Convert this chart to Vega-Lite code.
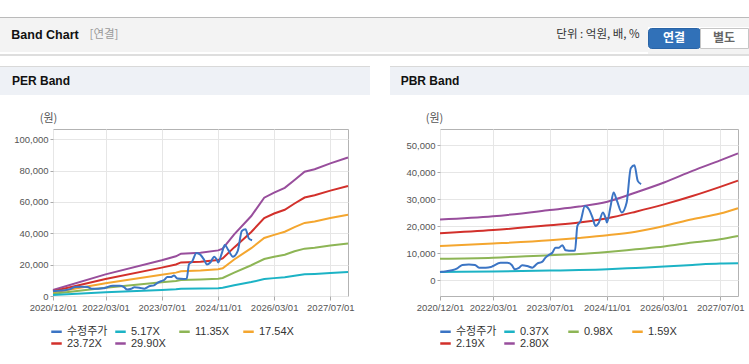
{
"$schema": "https://vega.github.io/schema/vega-lite/v6.json",
"background": "white",
"padding": {"top": 17, "left": 0, "right": 0, "bottom": 0},
"config": {
  "view": {"stroke": null},
  "axis": {"labelFont": "Liberation Sans", "labelFontSize": 9.5, "labelColor": "#555555", "gridColor": "#e6e6e6", "tickColor": "#aaaaaa", "domain": false},
  "text": {"font": "Noto Sans CJK KR"}
},
"datasets": {
  "price": [
    {"d":"2020-12-01","s":"수정주가","v":3100},{"d":"2020-12-21","s":"수정주가","v":3200},{"d":"2021-03-15","s":"수정주가","v":3700},{"d":"2021-04-28","s":"수정주가","v":4400},{"d":"2021-06-10","s":"수정주가","v":5700},{"d":"2021-08-06","s":"수정주가","v":5900},{"d":"2021-09-27","s":"수정주가","v":5700},{"d":"2021-11-01","s":"수정주가","v":4700},{"d":"2021-12-28","s":"수정주가","v":4700},{"d":"2022-02-10","s":"수정주가","v":4900},{"d":"2022-03-01","s":"수정주가","v":5300},{"d":"2022-05-04","s":"수정주가","v":6500},{"d":"2022-07-01","s":"수정주가","v":6500},{"d":"2022-08-08","s":"수정주가","v":5700},{"d":"2022-09-04","s":"수정주가","v":4100},{"d":"2022-10-09","s":"수정주가","v":4600},{"d":"2022-11-06","s":"수정주가","v":5600},{"d":"2022-12-19","s":"수정주가","v":5300},{"d":"2023-02-01","s":"수정주가","v":4700},{"d":"2023-03-15","s":"수정주가","v":6200},{"d":"2023-04-25","s":"수정주가","v":6800},{"d":"2023-05-25","s":"수정주가","v":8400},{"d":"2023-06-23","s":"수정주가","v":9400},{"d":"2023-07-22","s":"수정주가","v":10200},{"d":"2023-08-19","s":"수정주가","v":12100},{"d":"2023-09-17","s":"수정주가","v":12100},{"d":"2023-10-16","s":"수정주가","v":13000},{"d":"2023-11-14","s":"수정주가","v":11100},{"d":"2024-01-10","s":"수정주가","v":10900},{"d":"2024-02-02","s":"수정주가","v":11000},{"d":"2024-02-22","s":"수정주가","v":20100},{"d":"2024-03-21","s":"수정주가","v":22000},{"d":"2024-04-27","s":"수정주가","v":27500},{"d":"2024-05-31","s":"수정주가","v":26300},{"d":"2024-06-29","s":"수정주가","v":23500},{"d":"2024-07-27","s":"수정주가","v":20100},{"d":"2024-08-25","s":"수정주가","v":21400},{"d":"2024-09-28","s":"수정주가","v":25100},{"d":"2024-10-20","s":"수정주가","v":23200},{"d":"2024-11-02","s":"수정주가","v":21400},{"d":"2024-12-01","s":"수정주가","v":26900},{"d":"2024-12-29","s":"수정주가","v":32500},{"d":"2025-01-27","s":"수정주가","v":29400},{"d":"2025-03-09","s":"수정주가","v":25100},{"d":"2025-04-20","s":"수정주가","v":28800},{"d":"2025-05-25","s":"수정주가","v":41500},{"d":"2025-06-26","s":"수정주가","v":42600},{"d":"2025-07-24","s":"수정주가","v":36800},{"d":"2025-08-22","s":"수정주가","v":35600}
  ],
  "per": [
    {"d":"2020-12-01","s":"29.90X","v":3800},{"d":"2022-03-01","s":"29.90X","v":13800},{"d":"2023-07-01","s":"29.90X","v":22800},{"d":"2023-11-01","s":"29.90X","v":25300},{"d":"2023-12-15","s":"29.90X","v":27000},{"d":"2024-06-01","s":"29.90X","v":27600},{"d":"2024-11-01","s":"29.90X","v":29100},{"d":"2024-12-10","s":"29.90X","v":30200},{"d":"2025-03-20","s":"29.90X","v":39300},{"d":"2025-08-15","s":"29.90X","v":51000},{"d":"2025-12-05","s":"29.90X","v":62700},{"d":"2026-03-01","s":"29.90X","v":65900},{"d":"2026-06-01","s":"29.90X","v":69000},{"d":"2026-08-25","s":"29.90X","v":74000},{"d":"2026-11-20","s":"29.90X","v":79300},{"d":"2027-02-15","s":"29.90X","v":80800},{"d":"2027-07-01","s":"29.90X","v":84600},{"d":"2027-12-01","s":"29.90X","v":88300},
    {"d":"2020-12-01","s":"23.72X","v":3000},{"d":"2022-03-01","s":"23.72X","v":10800},{"d":"2023-07-01","s":"23.72X","v":18100},{"d":"2023-11-01","s":"23.72X","v":20100},{"d":"2023-12-15","s":"23.72X","v":21400},{"d":"2024-06-01","s":"23.72X","v":21900},{"d":"2024-11-01","s":"23.72X","v":23000},{"d":"2024-12-10","s":"23.72X","v":24000},{"d":"2025-03-20","s":"23.72X","v":31000},{"d":"2025-08-15","s":"23.72X","v":40800},{"d":"2025-12-05","s":"23.72X","v":49700},{"d":"2026-03-01","s":"23.72X","v":52600},{"d":"2026-06-01","s":"23.72X","v":55000},{"d":"2026-08-25","s":"23.72X","v":59000},{"d":"2026-11-20","s":"23.72X","v":62800},{"d":"2027-02-15","s":"23.72X","v":64200},{"d":"2027-07-01","s":"23.72X","v":67200},{"d":"2027-12-01","s":"23.72X","v":70100},
    {"d":"2020-12-01","s":"17.54X","v":2200},{"d":"2022-03-01","s":"17.54X","v":8100},{"d":"2023-07-01","s":"17.54X","v":13500},{"d":"2023-11-01","s":"17.54X","v":14900},{"d":"2023-12-15","s":"17.54X","v":15800},{"d":"2024-06-01","s":"17.54X","v":16200},{"d":"2024-11-01","s":"17.54X","v":17000},{"d":"2024-12-10","s":"17.54X","v":17700},{"d":"2025-03-20","s":"17.54X","v":23300},{"d":"2025-08-15","s":"17.54X","v":30500},{"d":"2025-12-05","s":"17.54X","v":37000},{"d":"2026-03-01","s":"17.54X","v":39000},{"d":"2026-06-01","s":"17.54X","v":41000},{"d":"2026-08-25","s":"17.54X","v":43900},{"d":"2026-11-20","s":"17.54X","v":46600},{"d":"2027-02-15","s":"17.54X","v":47500},{"d":"2027-07-01","s":"17.54X","v":49700},{"d":"2027-12-01","s":"17.54X","v":51800},
    {"d":"2020-12-01","s":"11.35X","v":1450},{"d":"2022-03-01","s":"11.35X","v":5300},{"d":"2023-07-01","s":"11.35X","v":8700},{"d":"2023-11-01","s":"11.35X","v":9600},{"d":"2023-12-15","s":"11.35X","v":10200},{"d":"2024-06-01","s":"11.35X","v":10500},{"d":"2024-11-01","s":"11.35X","v":11000},{"d":"2024-12-10","s":"11.35X","v":11500},{"d":"2025-03-20","s":"11.35X","v":14900},{"d":"2025-08-15","s":"11.35X","v":19600},{"d":"2025-12-05","s":"11.35X","v":23600},{"d":"2026-03-01","s":"11.35X","v":25000},{"d":"2026-06-01","s":"11.35X","v":26300},{"d":"2026-08-25","s":"11.35X","v":28500},{"d":"2026-11-20","s":"11.35X","v":30200},{"d":"2027-02-15","s":"11.35X","v":30800},{"d":"2027-07-01","s":"11.35X","v":32200},{"d":"2027-12-01","s":"11.35X","v":33500},
    {"d":"2020-12-01","s":"5.17X","v":650},{"d":"2022-03-01","s":"5.17X","v":2400},{"d":"2023-07-01","s":"5.17X","v":3900},{"d":"2023-11-01","s":"5.17X","v":4300},{"d":"2023-12-15","s":"5.17X","v":4600},{"d":"2024-06-01","s":"5.17X","v":4800},{"d":"2024-11-01","s":"5.17X","v":5000},{"d":"2024-12-10","s":"5.17X","v":5300},{"d":"2025-03-20","s":"5.17X","v":6800},{"d":"2025-08-15","s":"5.17X","v":8900},{"d":"2025-12-05","s":"5.17X","v":10800},{"d":"2026-03-01","s":"5.17X","v":11400},{"d":"2026-06-01","s":"5.17X","v":12000},{"d":"2026-08-25","s":"5.17X","v":12900},{"d":"2026-11-20","s":"5.17X","v":13800},{"d":"2027-02-15","s":"5.17X","v":14100},{"d":"2027-07-01","s":"5.17X","v":14700},{"d":"2027-12-01","s":"5.17X","v":15300}
  ],
  "pbr": [
    {"d":"2020-12-01","s":"2.80X","v":22500},{"d":"2022-03-01","s":"2.80X","v":23700},{"d":"2023-07-01","s":"2.80X","v":26000},{"d":"2024-03-08","s":"2.80X","v":27300},{"d":"2024-11-06","s":"2.80X","v":29100},{"d":"2025-07-07","s":"2.80X","v":32500},{"d":"2026-03-07","s":"2.80X","v":36200},{"d":"2026-11-05","s":"2.80X","v":40500},{"d":"2027-07-01","s":"2.80X","v":44400},{"d":"2027-12-01","s":"2.80X","v":47000},
    {"d":"2020-12-01","s":"2.19X","v":17400},{"d":"2022-03-01","s":"2.19X","v":18600},{"d":"2023-07-01","s":"2.19X","v":20400},{"d":"2024-03-08","s":"2.19X","v":21400},{"d":"2024-11-06","s":"2.19X","v":23000},{"d":"2025-07-07","s":"2.19X","v":25400},{"d":"2026-03-07","s":"2.19X","v":28100},{"d":"2026-11-05","s":"2.19X","v":31200},{"d":"2027-07-01","s":"2.19X","v":34600},{"d":"2027-12-01","s":"2.19X","v":36900},
    {"d":"2020-12-01","s":"1.59X","v":12700},{"d":"2022-03-01","s":"1.59X","v":13600},{"d":"2023-07-01","s":"1.59X","v":14800},{"d":"2024-03-08","s":"1.59X","v":15700},{"d":"2024-11-06","s":"1.59X","v":16700},{"d":"2025-07-07","s":"1.59X","v":18000},{"d":"2026-03-07","s":"1.59X","v":20100},{"d":"2026-11-05","s":"1.59X","v":22600},{"d":"2027-07-01","s":"1.59X","v":24700},{"d":"2027-12-01","s":"1.59X","v":26700},
    {"d":"2020-12-01","s":"0.98X","v":8000},{"d":"2022-03-01","s":"0.98X","v":8400},{"d":"2023-07-01","s":"0.98X","v":9300},{"d":"2024-03-08","s":"0.98X","v":9700},{"d":"2024-11-06","s":"0.98X","v":10500},{"d":"2025-07-07","s":"0.98X","v":11500},{"d":"2026-03-07","s":"0.98X","v":12500},{"d":"2026-11-05","s":"0.98X","v":14000},{"d":"2027-07-01","s":"0.98X","v":15200},{"d":"2027-12-01","s":"0.98X","v":16400},
    {"d":"2020-12-01","s":"0.37X","v":3100},{"d":"2022-03-01","s":"0.37X","v":3300},{"d":"2023-07-01","s":"0.37X","v":3600},{"d":"2024-03-08","s":"0.37X","v":3800},{"d":"2024-11-06","s":"0.37X","v":4100},{"d":"2025-07-07","s":"0.37X","v":4600},{"d":"2026-03-07","s":"0.37X","v":5100},{"d":"2026-11-05","s":"0.37X","v":5700},{"d":"2027-07-01","s":"0.37X","v":6200},{"d":"2027-12-01","s":"0.37X","v":6300}
  ]
},
"columns": 1,
"align": "none",
"spacing": 10,
"concat": [
  {
    "columns": 1, "align": "none", "spacing": 0,
    "concat": [
      {"width": 749, "height": 1, "data": {"values": [{}]}, "mark": {"type": "rect", "color": "#bababa"}, "encoding": {}},
      {
        "align": "none", "spacing": 0, "bounds": "flush",
        "concat": [
          {"width": 90, "height": 34, "view": {"fill": "#f3f3f3", "stroke": null}, "data": {"values": [{"t": "Band Chart"}]}, "mark": {"type": "text", "font": "Liberation Sans", "fontSize": 12.5, "fontWeight": "bold", "color": "#111111"}, "encoding": {"text": {"field": "t", "type": "nominal"}}},
          {"width": 28, "height": 34, "view": {"fill": "#f3f3f3", "stroke": null}, "data": {"values": [{"t": "[연결]"}]}, "mark": {"type": "text", "fontSize": 11.5, "color": "#999999"}, "encoding": {"text": {"field": "t", "type": "nominal"}}},
          {"width": 430, "height": 34, "data": {"values": [{}]}, "mark": {"type": "rect", "color": "#f3f3f3"}, "encoding": {}},
          {"width": 100, "height": 34, "view": {"fill": "#f3f3f3", "stroke": null}, "data": {"values": [{"t": "단위 : 억원, 배, %"}]}, "mark": {"type": "text", "fontSize": 11.5, "color": "#333333"}, "encoding": {"text": {"field": "t", "type": "nominal"}}},
          {
            "columns": 1, "align": "none", "spacing": 0,
            "concat": [
              {"width": 101, "height": 9, "data": {"values": [{}]}, "mark": {"type": "rect", "color": "#f3f3f3"}, "encoding": {}},
              {
                "align": "none", "spacing": 0, "bounds": "flush",
                "concat": [
                  {"width": 52, "height": 20, "view": {"fill": "#3171b8", "stroke": "#2a64a6", "cornerRadius": 3}, "data": {"values": [{"t": "연결"}]}, "mark": {"type": "text", "fontSize": 12, "fontWeight": "bold", "color": "#ffffff"}, "encoding": {"text": {"field": "t", "type": "nominal"}}},
                  {"width": 48, "height": 20, "view": {"fill": "#ffffff", "stroke": "#c6c6c6"}, "data": {"values": [{"t": "별도"}]}, "mark": {"type": "text", "fontSize": 12, "fontWeight": "bold", "color": "#666666"}, "encoding": {"text": {"field": "t", "type": "nominal"}}}
                ]
              },
              {"width": 101, "height": 5, "data": {"values": [{}]}, "mark": {"type": "rect", "color": "#f3f3f3"}, "encoding": {}}
            ]
          }
        ]
      },
      {"width": 749, "height": 2, "data": {"values": [{}]}, "mark": {"type": "rect", "color": "#dedede"}, "encoding": {}}
    ]
  },
  {
    "align": "none", "spacing": 20,
    "resolve": {"scale": {"color": "independent"}, "legend": {"color": "independent"}},
    "concat": [
      {
        "columns": 1, "align": "none", "spacing": 16,
        "resolve": {"legend": {"color": "independent"}},
        "concat": [
          {
            "columns": 1, "align": "none", "spacing": 0,
            "concat": [
              {"width": 370, "height": 1, "data": {"values": [{}]}, "mark": {"type": "rect", "color": "#d9d9d9"}, "encoding": {}},
              {
                "align": "none", "spacing": 0, "bounds": "flush",
                "concat": [
                  {"width": 82, "height": 28, "view": {"fill": "#eef1f6", "stroke": null}, "data": {"values": [{"t": "PER Band"}]}, "mark": {"type": "text", "font": "Liberation Sans", "fontSize": 12, "fontWeight": "bold", "color": "#111111"}, "encoding": {"text": {"field": "t", "type": "nominal"}}},
                  {"width": 288, "height": 28, "data": {"values": [{}]}, "mark": {"type": "rect", "color": "#eef1f6"}, "encoding": {}}
                ]
              }
            ]
          },
          {
            "align": "none", "spacing": 0,
            "resolve": {"legend": {"color": "independent"}},
            "concat": [
              {"width": 1, "height": 1, "data": {"values": [{}]}, "mark": {"type": "rect", "opacity": 0}, "encoding": {}},
              {
                "width": 295, "height": 167,
                "view": {"stroke": "#b3b3b3", "fill": "#ffffff"},
                "encoding": {
                  "x": {"field": "d", "type": "temporal",
                    "scale": {"type": "utc", "domain": [{"year": 2020, "month": 12, "date": 1, "utc": true}, {"year": 2027, "month": 12, "date": 1, "utc": true}]},
                    "axis": {"values": [{"year": 2020, "month": 12, "date": 1, "utc": true}, {"year": 2022, "month": 3, "date": 1, "utc": true}, {"year": 2023, "month": 7, "date": 1, "utc": true}, {"year": 2024, "month": 11, "date": 1, "utc": true}, {"year": 2026, "month": 3, "date": 1, "utc": true}, {"year": 2027, "month": 7, "date": 1, "utc": true}], "format": "%Y/%m/%d", "labelAngle": 0, "labelFlush": false, "title": null, "grid": true, "tickSize": 4, "labelPadding": 2, "labelOverlap": false}},
                  "y": {"field": "v", "type": "quantitative",
                    "scale": {"domain": [0, 106500], "nice": false},
                    "axis": {"values": [0, 20000, 40000, 60000, 80000, 100000], "format": ",d", "title": "(원)", "titleAngle": 0, "titleX": -5, "titleY": -11, "titleAlign": "center", "titleBaseline": "middle", "titleFont": "Noto Sans CJK KR", "titleFontSize": 11, "titleFontWeight": "normal", "titleColor": "#555555", "minExtent": 51, "maxExtent": 51, "tickSize": 3, "labelPadding": 2, "grid": true}},
                  "color": {"field": "s", "type": "nominal",
                    "scale": {"domain": ["수정주가", "5.17X", "11.35X", "17.54X", "23.72X", "29.90X"], "range": ["#3b74c4", "#1cb3c5", "#8db555", "#f4a62f", "#d2302b", "#984e9c"]},
                    "legend": {"title": null, "orient": "none", "legendX": -3, "legendY": 196, "direction": "horizontal", "columns": 4, "symbolType": "stroke", "symbolSize": 110, "symbolStrokeWidth": 2.5, "labelFont": "Liberation Sans, Noto Sans CJK KR", "labelFontSize": 11, "labelColor": "#333333", "gridAlign": "all", "columnPadding": 2, "rowPadding": 0, "labelOffset": 4, "labelLimit": 100}}
                },
                "layer": [
                  {"data": {"name": "per"}, "mark": {"type": "line", "strokeWidth": 2}},
                  {"data": {"name": "price"}, "mark": {"type": "line", "strokeWidth": 2, "interpolate": "monotone"}}
                ]
              }
            ]
          }
        ]
      },
      {
        "columns": 1, "align": "none", "spacing": 16,
        "resolve": {"legend": {"color": "independent"}},
        "concat": [
          {
            "columns": 1, "align": "none", "spacing": 0,
            "concat": [
              {"width": 359, "height": 1, "data": {"values": [{}]}, "mark": {"type": "rect", "color": "#d9d9d9"}, "encoding": {}},
              {
                "align": "none", "spacing": 0, "bounds": "flush",
                "concat": [
                  {"width": 80, "height": 28, "view": {"fill": "#eef1f6", "stroke": null}, "data": {"values": [{"t": "PBR Band"}]}, "mark": {"type": "text", "font": "Liberation Sans", "fontSize": 12, "fontWeight": "bold", "color": "#111111"}, "encoding": {"text": {"field": "t", "type": "nominal"}}},
                  {"width": 279, "height": 28, "data": {"values": [{}]}, "mark": {"type": "rect", "color": "#eef1f6"}, "encoding": {}}
                ]
              }
            ]
          },
          {
            "align": "none", "spacing": 0,
            "resolve": {"legend": {"color": "independent"}},
            "concat": [
              {"width": 1, "height": 1, "data": {"values": [{}]}, "mark": {"type": "rect", "opacity": 0}, "encoding": {}},
              {
                "width": 298, "height": 167,
                "view": {"stroke": "#b3b3b3", "fill": "#ffffff"},
                "encoding": {
                  "x": {"field": "d", "type": "temporal",
                    "scale": {"type": "utc", "domain": [{"year": 2020, "month": 12, "date": 1, "utc": true}, {"year": 2027, "month": 12, "date": 1, "utc": true}]},
                    "axis": {"values": [{"year": 2020, "month": 12, "date": 1, "utc": true}, {"year": 2022, "month": 3, "date": 1, "utc": true}, {"year": 2023, "month": 7, "date": 1, "utc": true}, {"year": 2024, "month": 11, "date": 1, "utc": true}, {"year": 2026, "month": 3, "date": 1, "utc": true}, {"year": 2027, "month": 7, "date": 1, "utc": true}], "format": "%Y/%m/%d", "labelAngle": 0, "labelFlush": false, "title": null, "grid": true, "tickSize": 4, "labelPadding": 2, "labelOverlap": false}},
                  "y": {"field": "v", "type": "quantitative",
                    "scale": {"domain": [-5800, 56000], "nice": false, "zero": false},
                    "axis": {"values": [0, 10000, 20000, 30000, 40000, 50000], "format": ",d", "title": "(원)", "titleAngle": 0, "titleX": -6, "titleY": -11, "titleAlign": "center", "titleBaseline": "middle", "titleFont": "Noto Sans CJK KR", "titleFontSize": 11, "titleFontWeight": "normal", "titleColor": "#555555", "minExtent": 48, "maxExtent": 48, "tickSize": 3, "labelPadding": 2, "grid": true}},
                  "color": {"field": "s", "type": "nominal",
                    "scale": {"domain": ["수정주가", "0.37X", "0.98X", "1.59X", "2.19X", "2.80X"], "range": ["#3b74c4", "#1cb3c5", "#8db555", "#f4a62f", "#d2302b", "#984e9c"]},
                    "legend": {"title": null, "orient": "none", "legendX": -1, "legendY": 196, "direction": "horizontal", "columns": 4, "symbolType": "stroke", "symbolSize": 110, "symbolStrokeWidth": 2.5, "labelFont": "Liberation Sans, Noto Sans CJK KR", "labelFontSize": 11, "labelColor": "#333333", "gridAlign": "all", "columnPadding": 2, "rowPadding": 0, "labelOffset": 4, "labelLimit": 100}}
                },
                "layer": [
                  {"data": {"name": "pbr"}, "mark": {"type": "line", "strokeWidth": 2, "interpolate": "monotone"}},
                  {"data": {"name": "price"}, "mark": {"type": "line", "strokeWidth": 2, "interpolate": "monotone"}}
                ]
              }
            ]
          }
        ]
      }
    ]
  }
]
}
